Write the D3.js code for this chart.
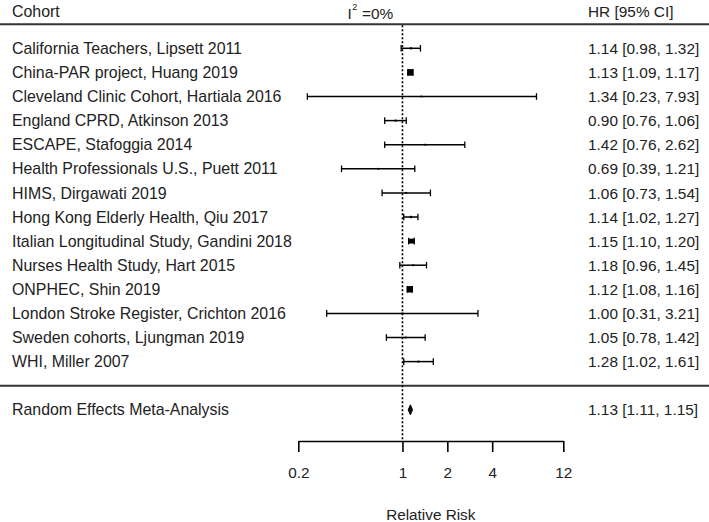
<!DOCTYPE html>
<html>
<head>
<meta charset="utf-8">
<script src="https://cdn.jsdelivr.net/npm/d3@7"></script>
<style>
  html, body { margin: 0; padding: 0; background: #fff; }
  svg { display: block; }
  text { font-family: Arial, "Liberation Sans", sans-serif; fill: #222; }
</style>
</head>
<body>
<svg id="chart" width="709" height="522"></svg>
<script>
const cohorts = [
  "California Teachers, Lipsett 2011",
  "China-PAR project, Huang 2019",
  "Cleveland Clinic Cohort, Hartiala 2016",
  "England CPRD, Atkinson 2013",
  "ESCAPE, Stafoggia 2014",
  "Health Professionals U.S., Puett 2011",
  "HIMS, Dirgawati 2019",
  "Hong Kong Elderly Health, Qiu 2017",
  "Italian Longitudinal Study, Gandini 2018",
  "Nurses Health Study, Hart 2015",
  "ONPHEC, Shin 2019",
  "London Stroke Register, Crichton 2016",
  "Sweden cohorts, Ljungman 2019",
  "WHI, Miller 2007"
];
const hr    = [1.14, 1.13, 1.34, 0.90, 1.42, 0.69, 1.06, 1.14, 1.15, 1.18, 1.12, 1.00, 1.05, 1.28];
const lower = [0.98, 1.09, 0.23, 0.76, 0.76, 0.39, 0.73, 1.02, 1.10, 0.96, 1.08, 0.31, 0.78, 1.02];
const upper = [1.32, 1.17, 7.93, 1.06, 2.62, 1.21, 1.54, 1.27, 1.20, 1.45, 1.16, 3.21, 1.42, 1.61];
// approximate study weights (relative)
const weights = [170, 3050, 1, 140, 10, 12, 28, 320, 2030, 90, 3000, 3, 43, 74];

const pooledLabel = "Random Effects Meta-Analysis";
const pooled = {hr: 1.13, lower: 1.11, upper: 1.15};
const heterogeneity = "0%";

const tickValues = [0.2, 1, 2, 4, 12];
const tickLabels = ["0.2", "1", "2", "4", "12"];

const fmt = d3.format(".2f");
const ciText = (h, l, u) => `${fmt(h)} [${fmt(l)}, ${fmt(u)}]`;

const svg = d3.select("#chart");
const W = 709;

const x = d3.scaleLog().domain([0.2, 12]).range([298.3, 563.3]);
const y = d3.scaleLinear().domain([0, 1]).range([48.3, 72.4]); // row index -> px
const size = d3.scaleLinear().domain([0, d3.max(weights)]).range([1.8, 6.5]);

const leftSize = 15.9;
const rightSize = 15.4;
const axisSize = 15.3;
const base = 5.6; // baseline offset from row centre

// Header
svg.append("text").attr("x", 12).attr("y", 16.5).attr("font-size", leftSize).text("Cohort");
svg.append("text").attr("x", 588).attr("y", 16.5).attr("font-size", rightSize).text("HR [95% CI]");
const i2 = svg.append("text").attr("x", 347.5).attr("y", 19).attr("font-size", rightSize);
i2.append("tspan").text("I");
i2.append("tspan").attr("font-size", 9).attr("dy", -9).attr("dx", 0.5).text("2");
i2.append("tspan").attr("dy", 9).attr("dx", 0.5).text(" =" + heterogeneity);

// Horizontal separators
svg.append("line").attr("x1", 0).attr("x2", W).attr("y1", y(-1)).attr("y2", y(-1))
  .attr("stroke", "#333").attr("stroke-width", 2);
svg.append("line").attr("x1", 0).attr("x2", W).attr("y1", y(14)).attr("y2", y(14))
  .attr("stroke", "#333").attr("stroke-width", 2);

// Reference line at 1
svg.append("line").attr("x1", x(1)).attr("x2", x(1)).attr("y1", y(-1) + 1).attr("y2", 441)
  .attr("stroke", "#000").attr("stroke-width", 1.6).attr("stroke-dasharray", "2,2");

// Rows
const rows = svg.append("g").selectAll("g").data(cohorts).join("g")
  .attr("transform", (d, i) => `translate(0,${y(i)})`);

rows.append("text").attr("x", 12).attr("y", base).attr("font-size", leftSize).text(d => d);
rows.append("text").attr("x", 588).attr("y", base).attr("font-size", rightSize)
  .text((d, i) => ciText(hr[i], lower[i], upper[i]));

rows.append("line")
  .attr("x1", (d, i) => x(lower[i])).attr("x2", (d, i) => x(upper[i]))
  .attr("stroke", "#000").attr("stroke-width", 1.5);
rows.append("line")
  .attr("x1", (d, i) => x(lower[i])).attr("x2", (d, i) => x(lower[i]))
  .attr("y1", -3.3).attr("y2", 3.3).attr("stroke", "#000").attr("stroke-width", 1.3);
rows.append("line")
  .attr("x1", (d, i) => x(upper[i])).attr("x2", (d, i) => x(upper[i]))
  .attr("y1", -3.3).attr("y2", 3.3).attr("stroke", "#000").attr("stroke-width", 1.3);
rows.append("rect")
  .attr("x", (d, i) => x(hr[i]) - size(weights[i]) / 2)
  .attr("y", (d, i) => -size(weights[i]) / 2)
  .attr("width", (d, i) => size(weights[i]))
  .attr("height", (d, i) => size(weights[i]))
  .attr("fill", "#000");

// Pooled
const py = y(15);
svg.append("text").attr("x", 12).attr("y", py + base).attr("font-size", leftSize).text(pooledLabel);
svg.append("text").attr("x", 588).attr("y", py + base).attr("font-size", rightSize)
  .text(ciText(pooled.hr, pooled.lower, pooled.upper));
svg.append("path")
  .attr("d", `M${x(pooled.lower) - 1},${py} L${x(pooled.hr)},${py - 5} L${x(pooled.upper) + 1},${py} L${x(pooled.hr)},${py + 5} Z`)
  .attr("fill", "#000").attr("stroke", "#000").attr("stroke-width", 1);

// Axis
const axis = d3.axisBottom(x).tickValues(tickValues)
  .tickFormat((d, i) => tickLabels[i]).tickSize(11).tickSizeOuter(0).tickPadding(15);
const ag = svg.append("g").attr("transform", "translate(0,441)").call(axis);
ag.select(".domain").attr("stroke", "#000").attr("stroke-width", 1.6);
ag.selectAll(".tick line").attr("stroke", "#000").attr("stroke-width", 1.6);
ag.selectAll(".tick text").attr("font-size", axisSize).attr("font-family", "Arial, 'Liberation Sans', sans-serif")
  .attr("fill", "#222");

svg.append("text").attr("x", (x(0.2) + x(12)) / 2).attr("y", 519.5).attr("text-anchor", "middle")
  .attr("font-size", axisSize).text("Relative Risk");
</script>
</body>
</html>
